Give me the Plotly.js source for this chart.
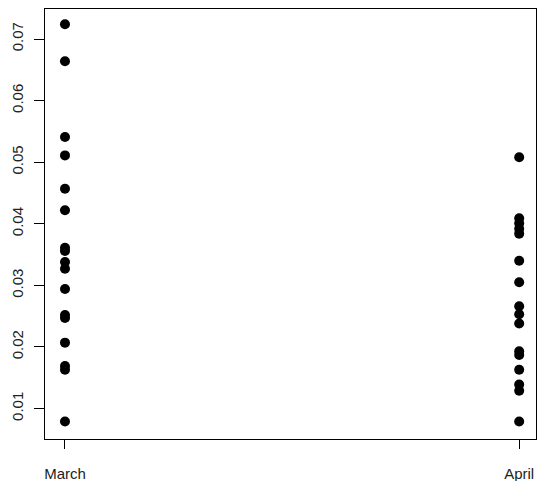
<!DOCTYPE html>
<html>
<head>
<meta charset="utf-8">
<script src="https://cdn.plot.ly/plotly-3.0.1.min.js"></script>
<style>html,body{margin:0;padding:0;background:#fff;}#chart{width:537px;height:481px;}</style>
</head>
<body>
<div id="chart"></div>
<script>
const categories = ["March", "April"];
const marchValues = [0.0724, 0.0664, 0.0541, 0.0511, 0.0457, 0.0422, 0.0361, 0.0356, 0.0338, 0.0327, 0.0294, 0.0252, 0.0247, 0.0207, 0.0169, 0.0163, 0.0079];
const aprilValues = [0.0508, 0.0409, 0.0401, 0.0392, 0.0384, 0.0340, 0.0305, 0.0266, 0.0253, 0.0238, 0.0193, 0.0187, 0.0163, 0.0139, 0.0129, 0.0079];
const yTicks = [0.01, 0.02, 0.03, 0.04, 0.05, 0.06, 0.07];

const series = [marchValues, aprilValues];
const traces = series.map((vals, i) => ({
  type: "scatter",
  mode: "markers",
  x: vals.map(() => categories[i]),
  y: vals,
  marker: {color: "#000", size: 10},
  hoverinfo: "y",
  showlegend: false
}));

const font = {family: "Liberation Sans, Arial, sans-serif", size: 15, color: "#222"};
const layout = {
  width: 537, height: 481,
  margin: {l: 45, r: 1, t: 9, b: 42},
  paper_bgcolor: "#fff", plot_bgcolor: "#fff",
  font: font,
  xaxis: {
    type: "category",
    categoryorder: "array", categoryarray: categories,
    range: [-0.044, 1.037],
    showgrid: false, zeroline: false,
    showline: true, linecolor: "#000", linewidth: 1, mirror: true,
    ticks: "outside", ticklen: 9, tickcolor: "#000", tickwidth: 1,
    ticklabelstandoff: 12,
    tickfont: font
  },
  yaxis: {
    range: [0.00506, 0.07487],
    tickvals: yTicks,
    ticktext: yTicks.map(v => v.toFixed(2)),
    tickangle: -90,
    showgrid: false, zeroline: false,
    showline: true, linecolor: "#000", linewidth: 1, mirror: true,
    ticks: "outside", ticklen: 10, tickcolor: "#000", tickwidth: 1,
    ticklabelstandoff: 5,
    tickfont: font
  }
};
Plotly.newPlot("chart", traces, layout, {staticPlot: true, displayModeBar: false});
</script>
</body>
</html>
